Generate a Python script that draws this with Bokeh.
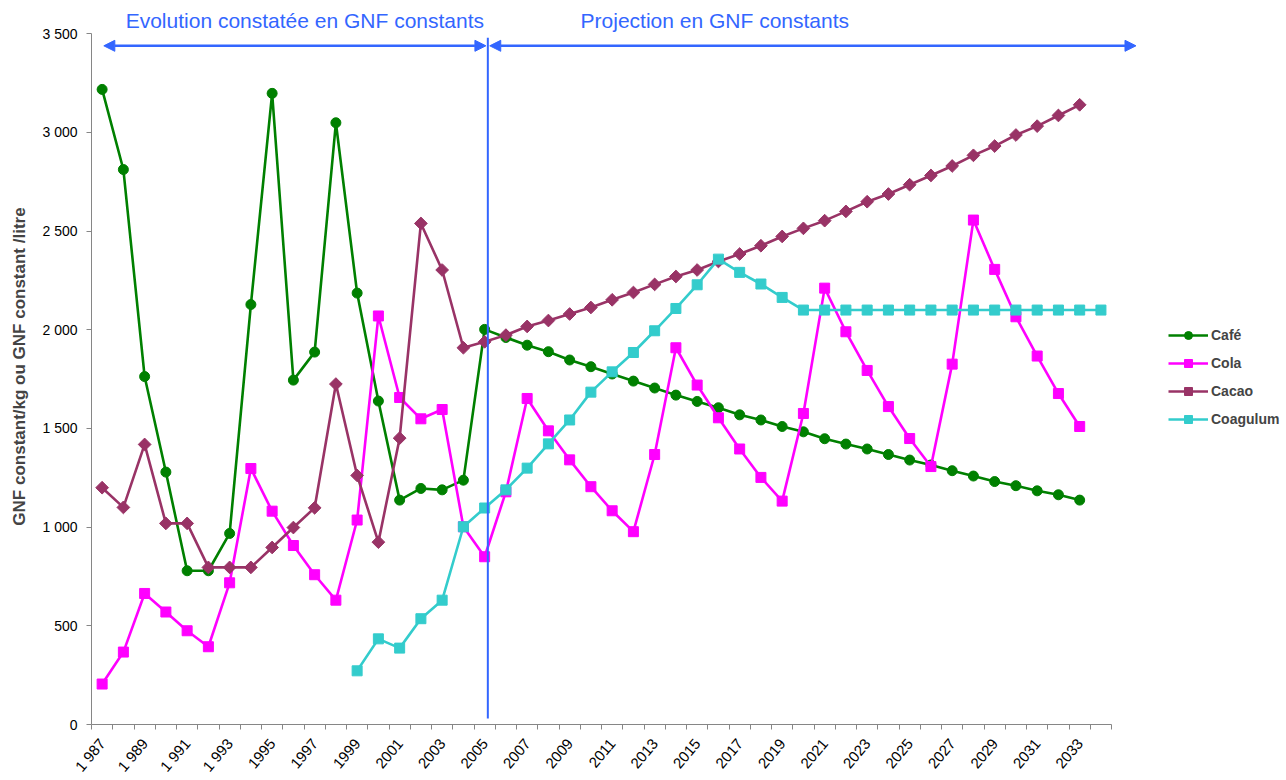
import numpy as np
from bokeh.plotting import figure
from bokeh.models import (ColumnDataSource, FixedTicker, Legend, LegendItem,
                          Arrow, NormalHead, Label, Range1d)
from bokeh.embed import file_html
from bokeh.resources import INLINE

# ---------------- data ----------------
years_main = list(range(1987, 2034))          # Café, Cola, Cacao
years_coag = list(range(1999, 2035))          # Coagulum

cafe = [3218, 2812, 1763, 1279, 779, 779, 968, 2128, 3198, 1745, 1887, 3049, 2186,
        1639, 1137, 1196, 1189, 1238, 2002,
        1961, 1922, 1889, 1847, 1813, 1776, 1740, 1705, 1669, 1637, 1605, 1569, 1543, 1510,
        1483, 1448, 1421, 1396, 1368, 1340, 1315, 1286, 1259, 1231, 1210, 1184, 1164, 1137]
cola = [205, 367, 664, 570, 475, 394, 718, 1297, 1081, 907, 759, 630, 1036,
        2070, 1657, 1549, 1596, 1002, 850,
        1179, 1652, 1488, 1341, 1205, 1083, 977, 1368, 1909, 1720, 1554, 1396, 1252, 1132,
        1576, 2211, 1990, 1794, 1611, 1449, 1307, 1826, 2556, 2306, 2066, 1867, 1677, 1510]
cacao = [1200, 1100, 1419, 1019, 1019, 796, 796, 796, 897, 998, 1098, 1725, 1262,
         924, 1451, 2539, 2303, 1909, 1939,
         1973, 2017, 2047, 2080, 2113, 2152, 2189, 2230, 2270, 2303, 2346, 2384, 2426, 2473,
         2514, 2553, 2600, 2649, 2688, 2735, 2782, 2830, 2884, 2931, 2987, 3032, 3086, 3140]
coagulum = [272, 434, 387, 536, 630, 1002, 1097,
            1189, 1299, 1422, 1543, 1684, 1787, 1885, 1995, 2108, 2228, 2358, 2291, 2232, 2164,
            2100, 2100, 2100, 2100, 2100, 2100, 2100, 2100, 2100, 2100, 2100, 2100, 2100, 2100, 2100]

x_tick_years = list(range(1987, 2034, 2))
x_tick_labels = ["1 987", "1 989", "1 991", "1 993", "1995", "1997", "1999", "2001",
                 "2003", "2005", "2007", "2009", "2011", "2013", "2015", "2017", "2019",
                 "2021", "2023", "2025", "2027", "2029", "2031", "2033"]
y_tick_values = [0, 500, 1000, 1500, 2000, 2500, 3000, 3500]
y_tick_labels = ["0", "500", "1 000", "1 500", "2 000", "2 500", "3 000", "3 500"]

series_names = ["Café", "Cola", "Cacao", "Coagulum"]
annot_left = "Evolution constatée en GNF constants"
annot_right = "Projection en GNF constants"
y_title = "GNF constant/kg ou GNF constant /litre"

# ---------------- styling ----------------
FONT = "Liberation Sans"
BLUE = "#3366FF"
AXIS_GRAY = "#868686"
colors = ["#008000", "#FF00FF", "#993366", "#33CCCC"]
markers = ["circle", "square", "square", "square"]
msizes = [10, 10, 9, 10]
mangles = [0, 0, np.pi / 4, 0]

n_cat = 48
first_year = 1987

p = figure(frame_width=1189, frame_height=716,
           x_range=Range1d(1986.5, 2042.45), y_range=Range1d(0, 3628),
           output_backend="svg", toolbar_location=None,
           min_border_left=91, min_border_right=0, min_border_top=8, min_border_bottom=50)
p.outline_line_color = None
p.xgrid.visible = False
p.ygrid.visible = False
p.background_fill_color = "white"
p.border_fill_color = "white"

# x axis
bounds_x = [first_year - 0.5 + i for i in range(n_cat + 1)]
p.xaxis.ticker = FixedTicker(ticks=x_tick_years, minor_ticks=bounds_x)
p.xaxis.bounds = (first_year - 0.5, first_year - 0.5 + n_cat)
p.xaxis.major_label_overrides = {y: l for y, l in zip(x_tick_years, x_tick_labels)}
p.xaxis.major_label_orientation = 50 * np.pi / 180
p.xaxis.major_tick_line_color = None
p.xaxis.minor_tick_line_color = AXIS_GRAY
p.xaxis.minor_tick_out = 5
p.xaxis.minor_tick_in = 0
p.xaxis.minor_tick_line_width = 1
p.xaxis.axis_line_color = AXIS_GRAY
p.xaxis.major_label_text_font = FONT
p.xaxis.major_label_text_font_size = "15px"
p.xaxis.major_label_text_color = "black"
p.xaxis.major_label_standoff = 10

# y axis
p.yaxis.ticker = FixedTicker(ticks=y_tick_values, minor_ticks=[])
p.yaxis.bounds = (0, 3500)
p.yaxis.major_label_overrides = {v: l for v, l in zip(y_tick_values, y_tick_labels)}
p.yaxis.major_tick_out = 5
p.yaxis.major_tick_in = 0
p.yaxis.major_tick_line_color = AXIS_GRAY
p.yaxis.minor_tick_line_color = None
p.yaxis.axis_line_color = AXIS_GRAY
p.yaxis.major_label_text_font = FONT
p.yaxis.major_label_text_font_size = "14px"
p.yaxis.major_label_text_color = "black"
p.yaxis.major_label_standoff = 9
p.yaxis.axis_label = y_title
p.yaxis.axis_label_text_font = FONT
p.yaxis.axis_label_text_font_style = "bold"
p.yaxis.axis_label_text_font_size = "17px"
p.yaxis.axis_label_standoff = 10

# series
all_x = [years_main, years_main, years_main, years_coag]
all_y = [cafe, cola, cacao, coagulum]
items = []
for name, xs, ys, c, m, s, a in zip(series_names, all_x, all_y, colors, markers, msizes, mangles):
    src = ColumnDataSource(dict(x=xs, y=ys))
    r1 = p.line("x", "y", source=src, line_color=c, line_width=2.6)
    r2 = p.scatter("x", "y", source=src, marker=m, size=s, angle=a,
                   fill_color=c, line_color=c)
    items.append(LegendItem(label=name, renderers=[r1, r2]))

# vertical separator line
p.segment(x0=[2005.15], y0=[30], x1=[2005.15], y1=[3480], line_color=BLUE, line_width=2)

# arrows
head = dict(size=11, fill_color=BLUE, line_color=BLUE)
p.add_layout(Arrow(start=NormalHead(**head), end=NormalHead(**head),
                   x_start=2005.06, y_start=3439, x_end=1987.08, y_end=3439,
                   line_color=BLUE, line_width=2.5))
p.add_layout(Arrow(start=NormalHead(**head), end=NormalHead(**head),
                   x_start=2005.24, y_start=3439, x_end=2035.65, y_end=3439,
                   line_color=BLUE, line_width=2.5))

p.add_layout(Label(x=1996.54, y=3566, text=annot_left, text_align="center",
                   text_baseline="middle", text_font=FONT, text_font_size="21px",
                   text_color=BLUE))
p.add_layout(Label(x=2015.83, y=3566, text=annot_right, text_align="center",
                   text_baseline="middle", text_font=FONT, text_font_size="21px",
                   text_color=BLUE))

legend = Legend(items=items, location=(1077, 295), glyph_width=40, glyph_height=20,
                label_height=20, spacing=8, padding=0, margin=0, label_standoff=3,
                label_text_font=FONT, label_text_font_style="bold",
                label_text_font_size="14px", border_line_color=None,
                background_fill_alpha=0)
p.add_layout(legend)

open("out.html", "w").write(file_html(p, INLINE))
